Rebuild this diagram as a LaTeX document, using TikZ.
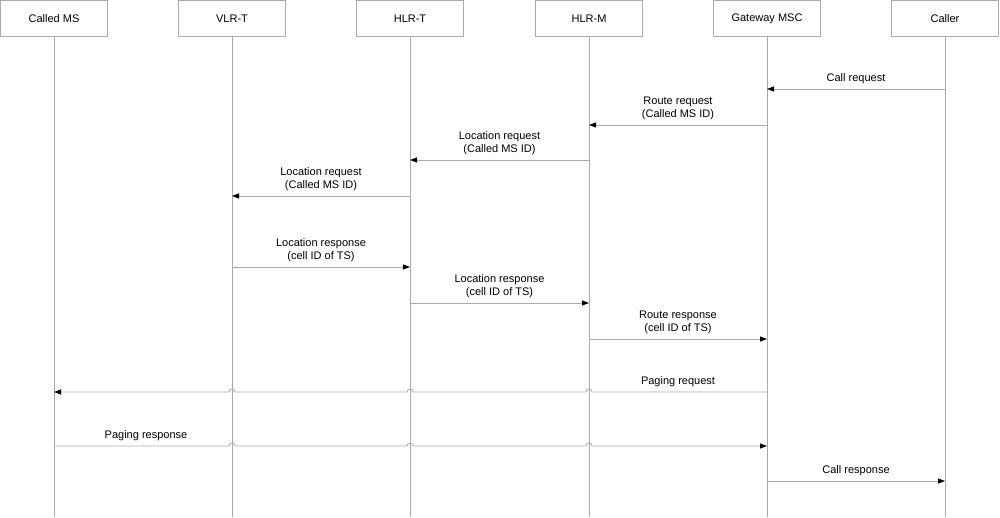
\documentclass[tikz,border=0pt]{standalone}
\usepackage{fontspec}
\setmainfont{Liberation Sans}
\usetikzlibrary{arrows.meta,calc}
\definecolor{linegray}{RGB}{170,170,170}
\tikzset{
  entity/.style={draw=linegray, minimum width=107pt, minimum height=36pt, inner sep=0pt, font=\fontsize{11}{13}\selectfont},
  lifeline/.style={draw=linegray, line width=0.8pt},
  msg/.style={draw=linegray, line width=0.8pt, -{Triangle[length=7pt,width=5pt,color=black]}},
  msglabel/.style={font=\fontsize{11}{13}\selectfont, align=center, above=2pt}
}
\begin{document}
\begin{tikzpicture}[x=1pt, y=-1pt]
\useasboundingbox (0,0) rectangle (1000,517);

% --- Entities ---
\foreach \name/\x/\txt in {cms/54/Called MS, vlr/232/VLR-T, hlrt/410/HLR-T,
    hlrm/589/HLR-M, gmsc/767/Gateway MSC, caller/945/Caller} {
    \node[entity] (\name) at (\x, 18.5) {\txt};
    \coordinate (\name-end) at (\x, 517);
    \draw[lifeline] (\name.south) -- (\name-end);
}

% Simple messages: from/to/y/label
\foreach \a/\b/\y/\lbl in {
    caller/gmsc/89/Call request,
    gmsc/hlrm/125/{Route request\\(Called MS ID)},
    hlrm/hlrt/160/{Location request\\(Called MS ID)},
    hlrt/vlr/196/{Location request\\(Called MS ID)},
    vlr/hlrt/267/{Location response\\(cell ID of TS)},
    hlrt/hlrm/303/{Location response\\(cell ID of TS)},
    hlrm/gmsc/339/{Route response\\(cell ID of TS)},
    gmsc/caller/481/Call response} {
    \draw[msg] (\a |- 0,\y) coordinate (s) -- (\b |- 0,\y) coordinate (e);
    \node[msglabel] at ($(s)!0.5!(e)$) {\lbl};
}

% Paging request (hops over lifelines)
\draw[msg] (gmsc |- 0,392) -- (592,392) arc(0:-180:3) -- (413,392) arc(0:-180:3)
    -- (235,392) arc(0:-180:3) -- (cms |- 0,392);
\node[msglabel] at (678,392) {Paging request};

% Paging response
\draw[msg] (cms |- 0,446) -- (229,446) arc(180:360:3) -- (407,446) arc(180:360:3)
    -- (586,446) arc(180:360:3) -- (gmsc |- 0,446);
\node[msglabel] at (146,446) {Paging response};

\end{tikzpicture}
\end{document}
